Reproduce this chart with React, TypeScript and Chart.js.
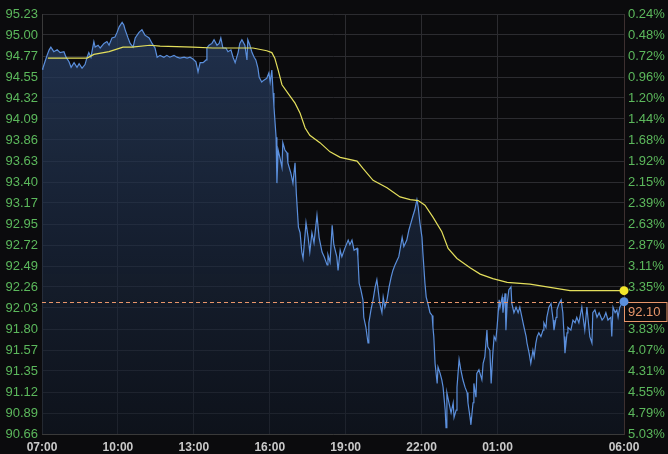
import React, { useEffect, useRef } from "react";
import { Chart, registerables } from "chart.js";
Chart.register(...registerables);

const timeTickMinutes = [0, 180, 360, 540, 720, 900, 1080, 1380];
const timeTickLabels = ["07:00", "10:00", "13:00", "16:00", "19:00", "22:00", "01:00", "06:00"];
const priceTickLabels = ["95.23", "95.00", "94.77", "94.55", "94.32", "94.09", "93.86", "93.63", "93.40", "93.17", "92.95", "92.72", "92.49", "92.26", "92.03", "91.80", "91.57", "91.35", "91.12", "90.89", "90.66"];
const percentTickLabels = ["0.24%", "0.48%", "0.72%", "0.96%", "1.20%", "1.44%", "1.68%", "1.92%", "2.15%", "2.39%", "2.63%", "2.87%", "3.11%", "3.35%", "3.59%", "3.83%", "4.07%", "4.31%", "4.55%", "4.79%", "5.03%"];
const priceMin = 90.66;
const priceMax = 95.23;
const lastPrice = 92.1;
const lastPriceLabel = "92.10";

// [minutes since 07:00, price]
const priceSeries: [number, number][] = [
  [0, 94.63], [2, 94.64], [7, 94.71], [12, 94.78], [17, 94.84], [21, 94.87], [28, 94.82], [36, 94.84], [43, 94.81], [52, 94.82],
  [57, 94.76], [64, 94.71], [69, 94.65], [76, 94.70], [83, 94.65], [88, 94.69], [95, 94.64], [102, 94.68], [107, 94.76], [111, 94.81],
  [116, 94.76], [123, 94.93], [126, 94.87], [133, 94.89], [138, 94.86], [147, 94.91], [154, 94.93], [159, 94.89], [166, 94.97], [173, 94.98],
  [178, 95.03], [183, 95.09], [190, 95.14], [194, 95.11], [197, 95.06], [204, 94.97], [209, 94.91], [216, 94.87], [221, 94.97], [230, 95.03],
  [237, 95.06], [244, 95.00], [254, 94.97], [261, 94.91], [268, 94.86], [273, 94.76], [280, 94.78], [289, 94.76], [296, 94.78], [303, 94.76],
  [313, 94.78], [320, 94.76], [327, 94.75], [337, 94.76], [344, 94.75], [351, 94.76], [358, 94.74], [365, 94.71], [370, 94.60], [375, 94.70],
  [382, 94.70], [389, 94.73], [391, 94.86], [396, 94.89], [403, 94.91], [408, 94.95], [415, 94.89], [420, 94.91], [424, 94.97], [429, 94.86],
  [436, 94.86], [441, 94.82], [448, 94.84], [453, 94.76], [458, 94.70], [465, 94.81], [469, 94.91], [474, 94.95], [481, 94.89], [486, 94.73],
  [488, 94.95], [493, 94.89], [498, 94.81], [503, 94.76], [507, 94.73], [512, 94.64], [515, 94.54], [521, 94.49], [526, 94.51], [533, 94.53],
  [538, 94.59], [541, 94.49], [545, 94.62], [548, 94.37], [550, 94.22], [555, 93.89], [557, 93.39], [560, 93.75], [564, 93.67], [569, 93.56],
  [571, 93.83], [576, 93.75], [581, 93.72], [583, 93.61], [590, 93.50], [595, 93.39], [600, 93.61], [603, 93.28], [608, 92.91], [612, 92.85],
  [616, 92.64], [619, 92.57], [626, 92.96], [631, 92.80], [635, 92.64], [640, 92.85], [645, 92.74], [652, 93.04], [657, 92.80], [664, 92.64],
  [669, 92.59], [676, 92.50], [678, 92.61], [683, 92.53], [688, 92.93], [692, 92.72], [699, 92.59], [702, 92.44], [707, 92.66], [711, 92.59],
  [718, 92.68], [726, 92.77], [730, 92.72], [735, 92.77], [740, 92.66], [747, 92.68], [749, 92.59], [752, 92.30], [756, 92.23], [761, 92.12],
  [763, 91.93], [768, 91.82], [773, 91.65], [775, 91.87], [780, 92.01], [785, 92.12], [790, 92.26], [794, 92.34], [797, 92.23], [801, 92.08],
  [806, 91.98], [809, 92.15], [813, 92.04], [818, 92.12], [823, 92.26], [828, 92.37], [832, 92.44], [837, 92.50], [842, 92.55], [846, 92.59],
  [851, 92.72], [854, 92.80], [858, 92.70], [865, 92.77], [870, 92.88], [875, 92.96], [880, 93.04], [884, 93.10], [889, 93.21], [892, 93.13],
  [896, 92.96], [901, 92.80], [903, 92.64], [908, 92.30], [911, 92.15], [915, 92.08], [920, 91.98], [925, 91.95], [927, 91.82], [929, 91.72],
  [932, 91.43], [937, 91.21], [939, 91.39], [944, 91.32], [948, 91.25], [951, 91.17], [956, 90.92], [958, 90.73], [960, 91.11], [965, 91.00],
  [970, 90.89], [975, 91.00], [977, 90.84], [982, 90.92], [984, 91.17], [989, 91.47], [993, 91.36], [998, 91.25], [1003, 91.17], [1008, 91.11],
  [1010, 91.00], [1015, 90.84], [1017, 90.76], [1022, 91.00], [1024, 91.21], [1029, 91.06], [1031, 91.32], [1036, 91.36], [1043, 91.25], [1046, 91.43],
  [1050, 91.50], [1055, 91.79], [1057, 91.61], [1062, 91.57], [1065, 91.21], [1069, 91.54], [1072, 91.72], [1076, 91.68], [1079, 91.82], [1084, 92.12],
  [1086, 92.04], [1091, 92.15], [1093, 91.98], [1098, 92.19], [1100, 91.79], [1103, 92.08], [1107, 92.23], [1112, 92.26], [1114, 92.08], [1119, 91.98],
  [1124, 92.04], [1129, 91.98], [1133, 92.04], [1138, 91.93], [1143, 91.82], [1148, 91.72], [1150, 91.65], [1155, 91.54], [1159, 91.43], [1164, 91.57],
  [1167, 91.50], [1171, 91.65], [1174, 91.72], [1178, 91.76], [1183, 91.72], [1188, 91.79], [1190, 91.87], [1195, 91.82], [1197, 91.93], [1202, 92.04],
  [1207, 92.08], [1212, 91.90], [1214, 91.79], [1219, 91.93], [1221, 92.01], [1226, 92.08], [1231, 92.12], [1235, 91.98], [1238, 91.72], [1240, 91.54],
  [1245, 91.76], [1247, 91.82], [1254, 91.79], [1259, 91.90], [1264, 91.87], [1268, 91.93], [1273, 91.87], [1280, 92.04], [1283, 91.93], [1287, 91.79],
  [1292, 92.04], [1295, 91.90], [1299, 91.72], [1304, 91.65], [1306, 91.98], [1311, 92.01], [1316, 91.93], [1321, 91.98], [1328, 91.90], [1333, 91.93],
  [1337, 91.98], [1342, 91.90], [1349, 91.93], [1351, 91.72], [1354, 92.04], [1359, 91.98], [1363, 92.01], [1366, 91.93], [1370, 92.04], [1375, 92.08],
  [1380, 92.10],
];

// [minutes since 07:00, moving average]
const averageSeries: [number, number][] = [
  [14, 94.75], [107, 94.75], [123, 94.79], [159, 94.82], [192, 94.87], [213, 94.87], [256, 94.89], [280, 94.88], [358, 94.87], [405, 94.86],
  [500, 94.86], [533, 94.83], [545, 94.81], [552, 94.75], [560, 94.62], [569, 94.46], [583, 94.37], [600, 94.26], [612, 94.15], [624, 93.99],
  [635, 93.91], [659, 93.83], [683, 93.73], [707, 93.67], [747, 93.63], [761, 93.55], [785, 93.42], [818, 93.34], [849, 93.24], [873, 93.21],
  [892, 93.20], [908, 93.15], [927, 93.02], [948, 92.86], [963, 92.68], [984, 92.57], [1015, 92.47], [1039, 92.40], [1069, 92.35], [1103, 92.31],
  [1157, 92.29], [1212, 92.25], [1252, 92.22], [1380, 92.22],
];

const W = 668;
const H = 454;
const BG = "#0b0b0d";
const GRID = "#2c2c30";
const GREEN = "#5cb85c";
const ORANGE = "#e8966a";

const evenTicks = () =>
  priceTickLabels.map((_, i) => ({ value: priceMin + (i * (priceMax - priceMin)) / (priceTickLabels.length - 1) }));

export default function App() {
  const ref = useRef<HTMLCanvasElement | null>(null);

  useEffect(() => {
    document.body.style.margin = "0";
    document.body.style.background = BG;
    const canvas = ref.current!;
    const n = priceSeries.length;
    const m = averageSeries.length;

    const lastLinePlugin = {
      id: "lastLine",
      beforeDatasetsDraw(chart: any) {
        const { ctx, chartArea, scales } = chart;
        const py = Math.round(scales.y.getPixelForValue(lastPrice)) + 0.5;
        ctx.save();
        ctx.fillStyle = BG;
        ctx.fillRect(chartArea.right + 1, py, W - chartArea.right - 1, 19);
        ctx.strokeStyle = ORANGE;
        ctx.lineWidth = 1;
        ctx.strokeRect(chartArea.right + 0.5, py, W - chartArea.right - 1.5, 19);
        ctx.fillStyle = ORANGE;
        ctx.font = "13px 'Liberation Sans', Arial, sans-serif";
        ctx.textBaseline = "middle";
        ctx.textAlign = "left";
        ctx.fillText(lastPriceLabel, chartArea.right + 4, py + 10);
        ctx.restore();
      },
      afterDatasetsDraw(chart: any) {
        const { ctx, chartArea, scales } = chart;
        const py = Math.round(scales.y.getPixelForValue(lastPrice)) + 0.5;
        ctx.save();
        ctx.strokeStyle = ORANGE;
        ctx.lineWidth = 1;
        ctx.setLineDash([4, 3]);
        ctx.beginPath();
        ctx.moveTo(chartArea.left, py);
        ctx.lineTo(chartArea.right - 5, py);
        ctx.stroke();
        ctx.restore();
      },
    };

    const chart = new Chart(canvas, {
      type: "line",
      data: {
        datasets: [
          {
            label: "average",
            data: averageSeries.map(([x, y]) => ({ x, y })),
            borderColor: "#e4df5c",
            borderWidth: 1.2,
            fill: false,
            tension: 0,
            clip: false as any,
            pointRadius: (c: any) => (c.dataIndex === m - 1 ? 4.5 : 0),
            pointBackgroundColor: "#f2e52a",
            pointBorderColor: "#f2e52a",
            pointBorderWidth: 0,
            yAxisID: "y",
          },
          {
            label: "price",
            data: priceSeries.map(([x, y]) => ({ x, y })),
            borderColor: "#5b8fdc",
            borderWidth: 1.2,
            tension: 0,
            clip: false as any,
            fill: "start",
            backgroundColor: (c: any) => {
              const area = c.chart.chartArea;
              if (!area) return "rgba(30,45,70,0.5)";
              const g = c.chart.ctx.createLinearGradient(0, area.top, 0, area.bottom);
              g.addColorStop(0, "rgba(40,62,98,0.78)");
              g.addColorStop(1, "rgba(18,26,40,0.55)");
              return g;
            },
            pointRadius: (c: any) => (c.dataIndex === n - 1 ? 4.5 : 0),
            pointBackgroundColor: "#5b8fdc",
            pointBorderColor: "#5b8fdc",
            pointBorderWidth: 0,
            yAxisID: "y",
          },
        ],
      },
      options: {
        animation: false,
        responsive: false,
        devicePixelRatio: 1,
        events: [],
        layout: { padding: { top: 14, left: 0, right: 0, bottom: 0 } },
        plugins: { legend: { display: false }, tooltip: { enabled: false } },
        scales: {
          x: {
            type: "linear",
            min: 0,
            max: 1380,
            afterBuildTicks: (axis: any) => {
              axis.ticks = timeTickMinutes.map((v) => ({ value: v }));
            },
            afterFit: (axis: any) => {
              axis.height = 20;
            },
            ticks: {
              autoSkip: false,
              maxRotation: 0,
              padding: 6,
              color: "#c9c9c9",
              font: { family: "'Liberation Sans', Arial, sans-serif", size: 12, weight: "bold" },
              callback: (v: any, i: number) => timeTickLabels[i],
            },
            grid: { color: GRID, drawTicks: false },
            border: { color: "#3a3a3a" },
          },
          y: {
            type: "linear",
            position: "left",
            min: priceMin,
            max: priceMax,
            afterBuildTicks: (axis: any) => {
              axis.ticks = evenTicks();
            },
            afterFit: (axis: any) => {
              axis.width = 42;
            },
            ticks: {
              autoSkip: false,
              padding: 4,
              color: GREEN,
              font: { family: "'Liberation Sans', Arial, sans-serif", size: 13 },
              callback: (v: any, i: number) => priceTickLabels[priceTickLabels.length - 1 - i],
            },
            grid: { color: GRID, drawTicks: false },
            border: { color: "#3a3a3a" },
          },
          y1: {
            type: "linear",
            position: "right",
            min: priceMin,
            max: priceMax,
            afterBuildTicks: (axis: any) => {
              axis.ticks = evenTicks();
            },
            afterFit: (axis: any) => {
              axis.width = 44;
            },
            ticks: {
              autoSkip: false,
              padding: 4,
              color: GREEN,
              font: { family: "'Liberation Sans', Arial, sans-serif", size: 13 },
              callback: (v: any, i: number) => percentTickLabels[percentTickLabels.length - 1 - i],
            },
            grid: { display: false, drawTicks: false },
            border: { color: "#3d3030" },
          },
        },
      },
      plugins: [lastLinePlugin],
    } as any);

    return () => chart.destroy();
  }, []);

  return (
    <div style={{ width: W, height: H, background: BG }}>
      <canvas ref={ref} width={W} height={H} style={{ display: "block", width: W, height: H }} />
    </div>
  );
}
